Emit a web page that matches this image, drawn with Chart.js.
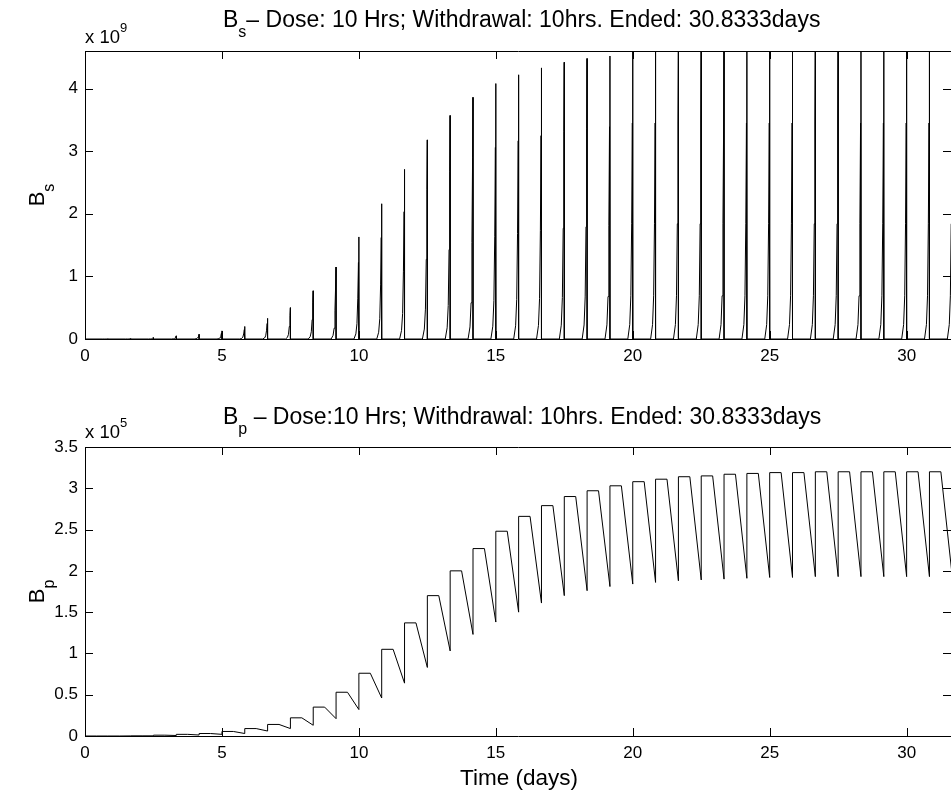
<!DOCTYPE html>
<html lang="en">
<head>
<meta charset="UTF-8">
<script src="https://cdn.jsdelivr.net/npm/chart.js"></script>
<title>Bs / Bp dosing</title>
<style>
  html, body { margin: 0; padding: 0; background: #fff; overflow: hidden; }
  canvas { position: absolute; left: 0; }
</style>
</head>
<body>
<canvas id="bs" width="951" height="398" style="top:0px"></canvas>
<canvas id="bp" width="951" height="399" style="top:398px"></canvas>

<script>
// start of each dose (days): 10 hrs dose + 10 hrs withdrawal
var doseDays = [0, 0.833, 1.667, 2.5, 3.333, 4.167, 5, 5.833, 6.667, 7.5, 8.333, 9.167,
  10, 10.833, 11.667, 12.5, 13.333, 14.167, 15, 15.833, 16.667, 17.5, 18.333, 19.167,
  20, 20.833, 21.667, 22.5, 23.333, 24.167, 25, 25.833, 26.667, 27.5, 28.333, 29.167,
  30, 30.833, 31.667];
var doseLength = 0.417; // 10 hrs in days

// Bs peak reached just before each dose (x 10^9)
var bsPeak = [0, 0.003, 0.008, 0.025, 0.05, 0.075, 0.13, 0.2, 0.33, 0.5, 0.77, 1.15,
  1.63, 2.16, 2.71, 3.18, 3.57, 3.86, 4.08, 4.22, 4.33, 4.42, 4.48, 4.52,
  4.6, 4.6, 4.6, 4.6, 4.6, 4.6, 4.6, 4.6, 4.6, 4.6, 4.6, 4.6, 4.6, 4.6, 4.6];
// shape of the exponential rise before a peak (days before dose, share of peak)
var riseOffset = [-0.18, -0.11, -0.07, -0.04, -0.015, 0];
var riseShare = [0, 0.05, 0.15, 0.4, 0.75, 1];

// Bp right after each dose starts, and just before it (x 10^5)
var bpHigh = [0, 0, 0.002, 0.01, 0.02, 0.03, 0.055, 0.09, 0.14, 0.22, 0.35, 0.53,
  0.76, 1.05, 1.37, 1.70, 2.0, 2.27, 2.48, 2.66, 2.79, 2.90, 2.97, 3.03,
  3.08, 3.11, 3.14, 3.15, 3.17, 3.18, 3.19, 3.19, 3.2, 3.2, 3.2, 3.2, 3.2, 3.2, 3.2];
var bpLow = [0, 0, 0.001, 0.002, 0.006, 0.012, 0.02, 0.03, 0.06, 0.09, 0.13, 0.21,
  0.32, 0.46, 0.64, 0.83, 1.03, 1.23, 1.38, 1.50, 1.61, 1.70, 1.76, 1.81,
  1.84, 1.86, 1.88, 1.89, 1.90, 1.91, 1.92, 1.92, 1.93, 1.93, 1.93, 1.93, 1.93, 1.93, 1.93];

var xTicks = [0, 5, 10, 15, 20, 25, 30];
var xMax = 31.62;

// build the two traces
var bsData = [{x: 0, y: 0}];
var bpData = [{x: 0, y: 0}];
for (var k = 1; k < doseDays.length; k++) {
  for (var j = 0; j < riseOffset.length; j++) {
    bsData.push({x: doseDays[k] + riseOffset[j], y: bsPeak[k] * riseShare[j]});
  }
  bsData.push({x: doseDays[k], y: 0});
}
for (var k = 0; k < doseDays.length; k++) {
  bpData.push({x: doseDays[k], y: bpLow[k]});
  bpData.push({x: doseDays[k], y: bpHigh[k]});
  bpData.push({x: doseDays[k] + doseLength, y: bpHigh[k]});
}

var FONT = '"Liberation Sans", Arial, Helvetica, sans-serif';
Chart.defaults.font.family = FONT;
Chart.defaults.color = '#000';

// text pieces with sub/superscripts: [text, 'sub' | 'sup' | undefined]
function richWidth(ctx, parts, size, small) {
  var w = 0;
  parts.forEach(function (p) {
    ctx.font = (p[1] ? small : size) + 'px ' + FONT;
    w += ctx.measureText(p[0]).width;
  });
  return w;
}
function drawRich(ctx, x, y, parts, size, small, rot, center) {
  ctx.save();
  ctx.translate(x, y);
  ctx.rotate(rot || 0);
  var cx = center ? -richWidth(ctx, parts, size, small) / 2 : 0;
  ctx.fillStyle = '#000';
  ctx.textBaseline = 'alphabetic';
  ctx.textAlign = 'left';
  parts.forEach(function (p) {
    ctx.font = (p[1] ? small : size) + 'px ' + FONT;
    var dy = p[1] === 'sub' ? 10 : (p[1] === 'sup' ? -11 : 0);
    ctx.fillText(p[0], cx, dy);
    cx += ctx.measureText(p[0]).width;
  });
  ctx.restore();
}

// MATLAB style: box, inward ticks on all sides, titles and labels
var matlabAxes = {
  id: 'matlabAxes',
  afterDraw: function (chart, args, o) {
    var ctx = chart.ctx, a = chart.chartArea;
    var xs = chart.scales.x, ys = chart.scales.y;
    ctx.save();
    ctx.strokeStyle = '#000';
    ctx.lineWidth = 1;
    ctx.beginPath();
    ctx.rect(Math.round(a.left) + 0.5, Math.round(a.top) + 0.5,
      Math.round(a.right - a.left), Math.round(a.bottom - a.top));
    xs.ticks.forEach(function (t) {
      var px = Math.round(xs.getPixelForValue(t.value)) + 0.5;
      ctx.moveTo(px, a.bottom); ctx.lineTo(px, a.bottom - 8);
      ctx.moveTo(px, a.top); ctx.lineTo(px, a.top + 8);
    });
    ys.ticks.forEach(function (t) {
      var py = Math.round(ys.getPixelForValue(t.value)) + 0.5;
      ctx.moveTo(a.left, py); ctx.lineTo(a.left + 8, py);
      ctx.moveTo(a.right, py); ctx.lineTo(a.right - 8, py);
    });
    ctx.stroke();
    ctx.restore();

    drawRich(ctx, o.titleX, o.titleY, o.title, 23, 16);
    drawRich(ctx, a.left, o.expY, [['x 10'], [o.exp, 'sup']], 18.5, 13);
    drawRich(ctx, 44, (a.top + a.bottom) / 2, o.ylabel, 22, 16, -Math.PI / 2, true);
    if (o.xlabel) drawRich(ctx, 519, o.xlabelY, [[o.xlabel]], 22.5, 16, 0, true);
  }
};

function makeChart(id, data, yMax, yStep, top, xHeight, texts) {
  return new Chart(document.getElementById(id), {
    type: 'line',
    data: {datasets: [{data: data, borderColor: '#000', borderWidth: 1,
      pointRadius: 0, tension: 0, fill: false}]},
    options: {
      responsive: false,
      animation: false,
      events: [],
      layout: {padding: {top: top, left: 0, right: 0, bottom: 0}},
      plugins: {legend: {display: false}, tooltip: {enabled: false}, matlabAxes: texts},
      scales: {
        x: {
          type: 'linear', min: 0, max: xMax,
          grid: {display: false, drawTicks: false},
          border: {display: false},
          afterBuildTicks: function (s) { s.ticks = xTicks.map(function (v) { return {value: v}; }); },
          ticks: {font: {size: 17}, padding: 7, maxRotation: 0,
            callback: function (v) { return String(v); }},
          afterFit: function (s) { s.height = xHeight; }
        },
        y: {
          min: 0, max: yMax,
          grid: {display: false, drawTicks: false},
          border: {display: false},
          ticks: {font: {size: 17}, padding: 7, stepSize: yStep, includeBounds: false,
            callback: function (v) { return String(v); }},
          afterFit: function (s) { s.width = 85; }
        }
      }
    },
    plugins: [matlabAxes]
  });
}

makeChart('bs', bsData, 4.6, 1, 51, 59, {
  title: [['B'], ['s', 'sub'], ['\u2013 Dose: 10 Hrs; Withdrawal: 10hrs. Ended: 30.8333days']],
  titleX: 223, titleY: 27, exp: '9', expY: 43,
  ylabel: [['B'], ['s', 'sub']]
});
makeChart('bp', bpData, 3.5, 0.5, 49, 61, {
  title: [['B'], ['p', 'sub'], [' \u2013 Dose:10 Hrs; Withdrawal: 10hrs. Ended: 30.8333days']],
  titleX: 223, titleY: 26, exp: '5', expY: 40,
  ylabel: [['B'], ['p', 'sub']],
  xlabel: 'Time (days)', xlabelY: 387
});
</script>
</body>
</html>
